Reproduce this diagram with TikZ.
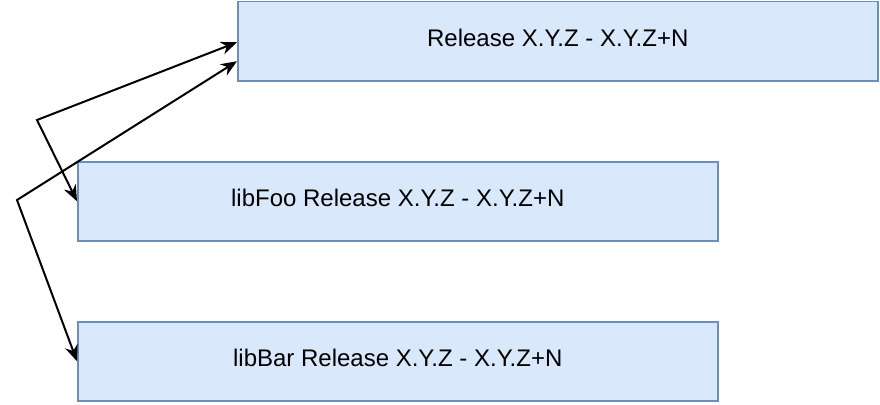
\documentclass[tikz,border=0pt]{standalone}
\usepackage{fontspec}
\setmainfont{Liberation Sans}
\usetikzlibrary{arrows.meta}
\definecolor{boxfill}{HTML}{DAE8FC}
\definecolor{boxline}{HTML}{6C8EBF}
\begin{document}
\begin{tikzpicture}[x=1pt,y=-1pt,
  relbox/.style={draw=boxline,fill=boxfill,line width=1.5pt,minimum width=640pt,minimum height=79pt,inner sep=0pt,anchor=north west},
  reltext/.style={font=\fontsize{24}{28}\selectfont,inner sep=0pt},
  link/.style={line width=2pt,{Stealth[length=16pt,width=13pt,inset=5pt]}-{Stealth[length=16pt,width=13pt,inset=5pt]}}]
\useasboundingbox (0,0) rectangle (880,404);
\node[relbox] (rel) at (237,1) {};
\node[relbox] (foo) at (77,161) {};
\node[relbox] (bar) at (77,321) {};
\node[reltext] (reltx) at ([yshift=3pt]rel.center) {Release X.Y.Z - X.Y.Z+N};
\node[reltext] (footx) at ([yshift=3pt]foo.center) {libFoo Release X.Y.Z - X.Y.Z+N};
\node[reltext] (bartx) at ([yshift=3pt]bar.center) {libBar Release X.Y.Z - X.Y.Z+N};
\coordinate (c1) at (37,120);
\coordinate (c2) at (17,200);
\draw[link] ([yshift=-1pt]rel.west) -- (c1) -- (foo.west);
\draw[link] ([yshift=-20pt]rel.west) -- (c2) -- (bar.west);
\end{tikzpicture}
\end{document}
